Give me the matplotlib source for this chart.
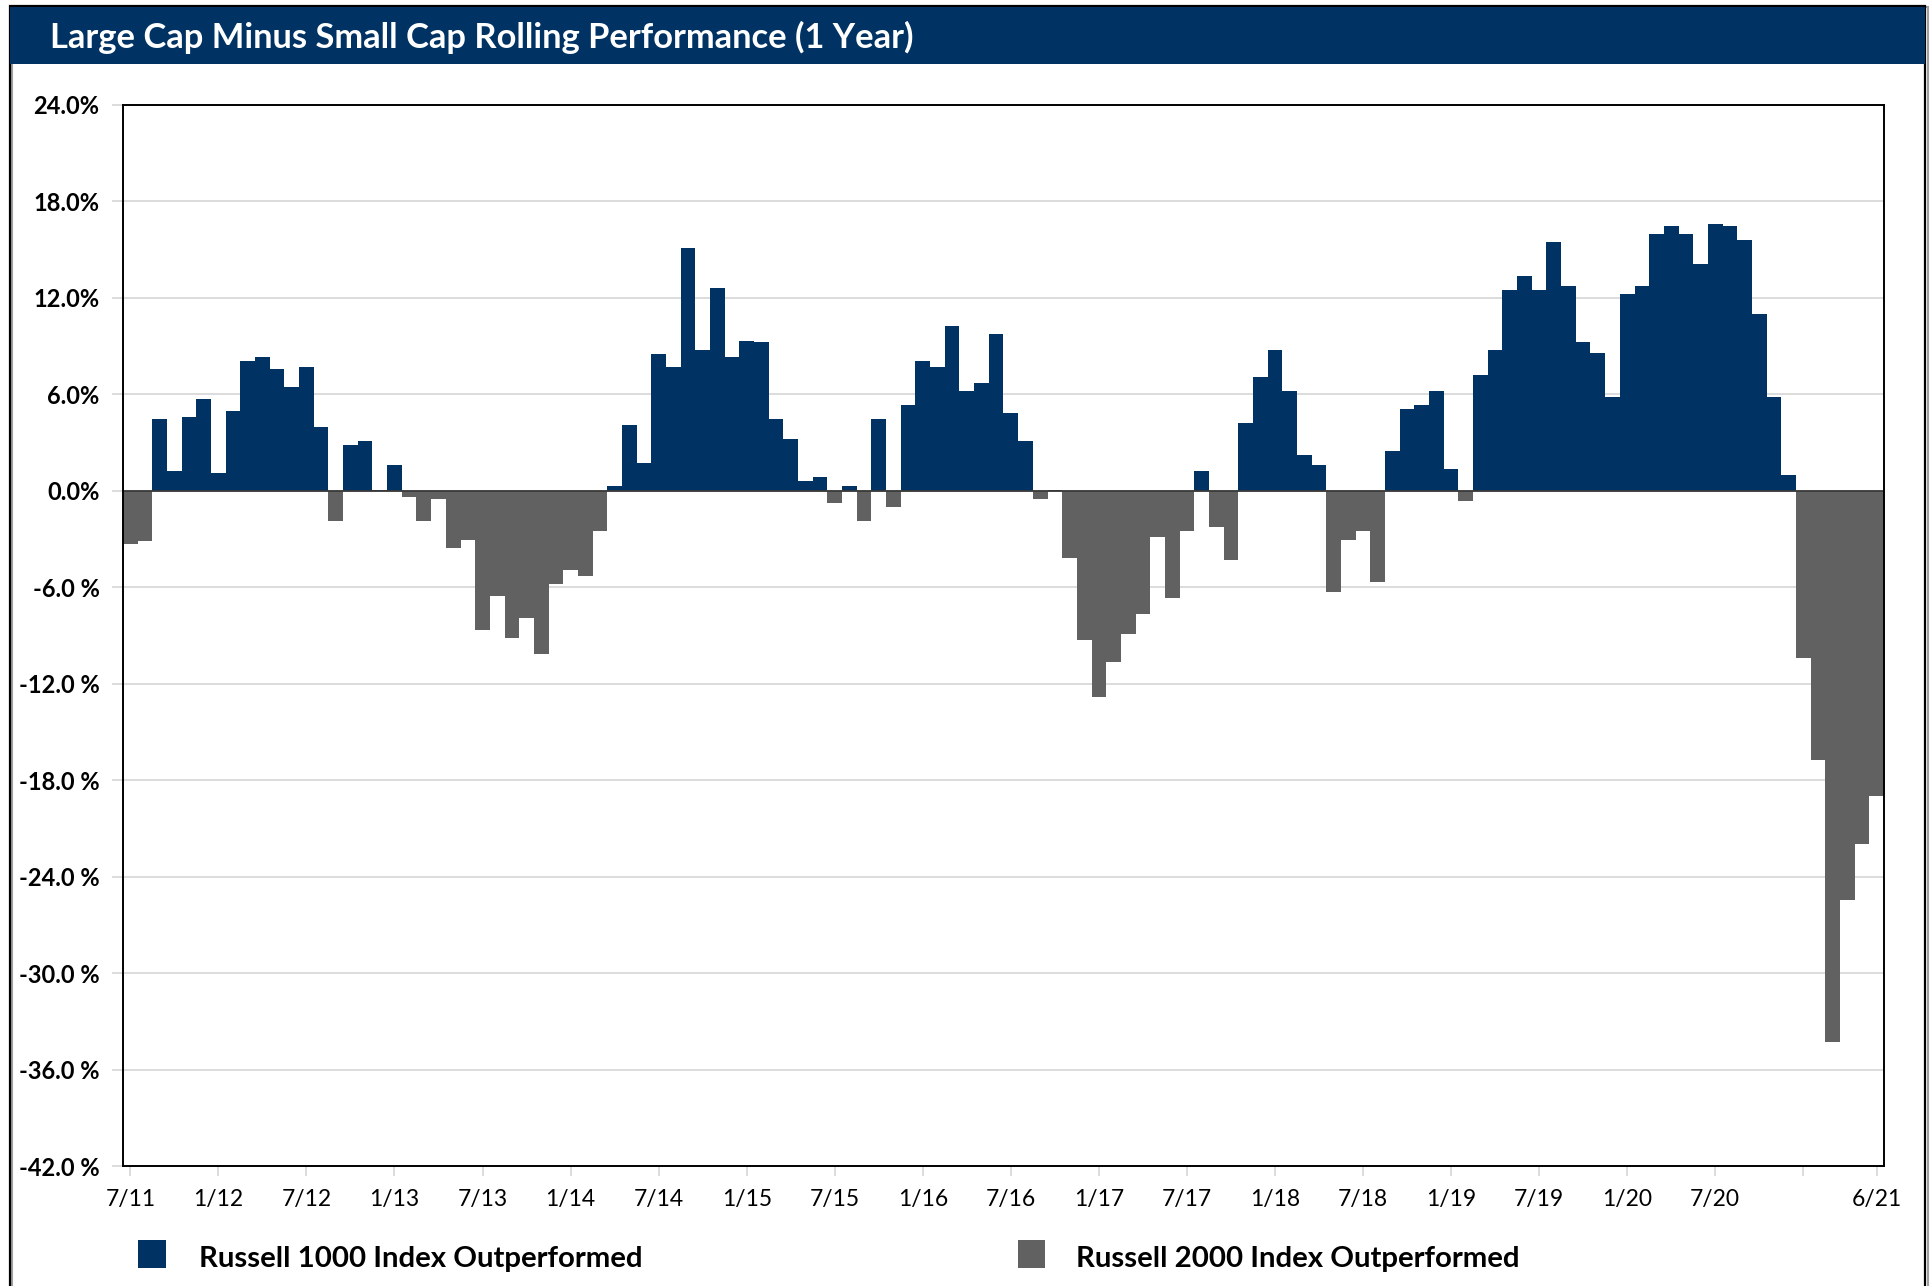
import numpy as np
import matplotlib
matplotlib.use("Agg")
import matplotlib.pyplot as plt
from matplotlib.patches import Rectangle

# Large cap minus small cap rolling 1-year return (%), monthly 7/11 .. 6/21
spread = [-3.28, -3.15, 4.47, 1.21, 4.59, 5.72, 1.09, 4.97, 8.10, 8.35,
          7.60, 6.47, 7.72, 3.97, -1.90, 2.84, 3.09, 0.08, 1.59, -0.40,
          -1.90, -0.54, -3.53, -3.03, -8.66, -6.53, -9.16, -7.91, -10.17, -5.78,
          -4.91, -5.28, -2.53, 0.33, 4.09, 1.71, 8.48, 7.72, 15.12, 8.73,
          12.61, 8.35, 9.35, 9.23, 4.47, 3.22, 0.58, 0.84, -0.77, 0.33,
          -1.90, 4.47, -1.02, 5.34, 8.10, 7.72, 10.23, 6.22, 6.72, 9.73,
          4.84, 3.09, -0.52, 0.08, -4.15, -9.29, -12.80, -10.67, -8.91, -7.66,
          -2.90, -6.66, -2.53, 1.21, -2.28, -4.28, 4.22, 7.10, 8.73, 6.22,
          2.21, 1.59, -6.28, -3.03, -2.53, -5.66, 2.46, 5.09, 5.34, 6.22,
          1.34, -0.65, 7.22, 8.73, 12.48, 13.36, 12.48, 15.49, 12.73, 9.23,
          8.60, 5.85, 12.23, 12.73, 15.99, 16.49, 15.99, 14.11, 16.62, 16.49,
          15.62, 10.98, 5.85, 0.96, -10.42, -16.72, -34.31, -25.44, -21.95, -18.97]

tick_pos = [0, 6, 12, 18, 24, 30, 36, 42, 48, 54, 60, 66, 72, 78, 84, 90, 96, 102, 108, 114, 119]
tick_labels = ['7/11', '1/12', '7/12', '1/13', '7/13', '1/14', '7/14', '1/15', '7/15', '1/16',
               '7/16', '1/17', '7/17', '1/18', '7/18', '1/19', '7/19', '1/20', '7/20', '', '6/21']
y_ticks = [24, 18, 12, 6, 0, -6, -12, -18, -24, -30, -36, -42]
y_labels = ['24.0%', '18.0%', '12.0%', '6.0%', '0.0%', '-6.0 %', '-12.0 %', '-18.0 %',
            '-24.0 %', '-30.0 %', '-36.0 %', '-42.0 %']
legend_labels = ['Russell 1000 Index Outperformed', 'Russell 2000 Index Outperformed']

navy = '#003263'
grey = '#616161'
plt.rcParams['font.family'] = ['Lato', 'DejaVu Sans']

W, H = 1933, 1286
fig = plt.figure(figsize=(W / 100, H / 100), dpi=100)

def fx(x):
    return x / W

def fy(y):
    return 1 - y / H

def fit(t, width_px):
    r = fig.canvas.get_renderer()
    w = t.get_window_extent(r).width
    t.set_fontsize(t.get_fontsize() * width_px / w)

# outer border + header band
fig.patches.append(Rectangle((fx(12), fy(1290)), fx(1916), 1290 / H - 7 / H, transform=fig.transFigure,
                             fill=False, edgecolor='#a0a0a0', lw=1.5))
fig.patches.append(Rectangle((fx(10), fy(1290)), fx(1915), 1290 / H - 6 / H, transform=fig.transFigure,
                             fill=False, edgecolor='black', lw=1.6))
fig.patches.append(Rectangle((fx(10), fy(64)), fx(1915), 57 / H, transform=fig.transFigure,
                             facecolor=navy, edgecolor='none'))
title = fig.text(fx(50), fy(48), 'Large Cap Minus Small Cap Rolling Performance (1 Year)',
                 color='white', fontsize=24, fontweight='bold', va='baseline', ha='left')
fit(title, 866)

# plot area
ax = fig.add_axes([fx(123), fy(1166), fx(1884 - 123), (1166 - 105) / H])
x = np.arange(len(spread))
vals = np.array(spread)
colors = [navy if v > 0 else grey for v in vals]
ax.bar(x, vals, width=1.0, color=colors, linewidth=0, zorder=2)
ax.axhline(0, color='#3a3a3a', lw=1.3, zorder=3)

ax.set_xlim(-0.5, len(spread) - 0.5)
ax.set_ylim(-42, 24)
ax.set_yticks(y_ticks, y_labels)
ax.set_xticks(tick_pos, tick_labels)
ax.yaxis.grid(True, color='#d9d9d9', lw=1.3, zorder=0)
ax.set_axisbelow(True)
ax.tick_params(axis='y', length=8, width=1.3, color='#d9d9d9', pad=9, labelsize=17)
ax.tick_params(axis='x', length=7.5, width=1.3, color='#d9d9d9', pad=9, labelsize=16.5)
for lbl in ax.get_yticklabels():
    lbl.set_fontweight('bold')
for s in ax.spines.values():
    s.set_color('black')
    s.set_linewidth(1.4)
    s.set_zorder(4)

# legend
for (x0, x1, tx), c, lab in zip([(138, 166, 199), (1018, 1045, 1076)], [navy, grey], legend_labels):
    fig.patches.append(Rectangle((fx(x0), fy(1268)), fx(x1 - x0), 28 / H, transform=fig.transFigure,
                                 facecolor=c, edgecolor='none'))
    t = fig.text(fx(tx), fy(1267), lab, fontsize=20, fontweight='bold', va='baseline', ha='left')
    fit(t, 444)

fig.savefig('out.png', dpi=100)
